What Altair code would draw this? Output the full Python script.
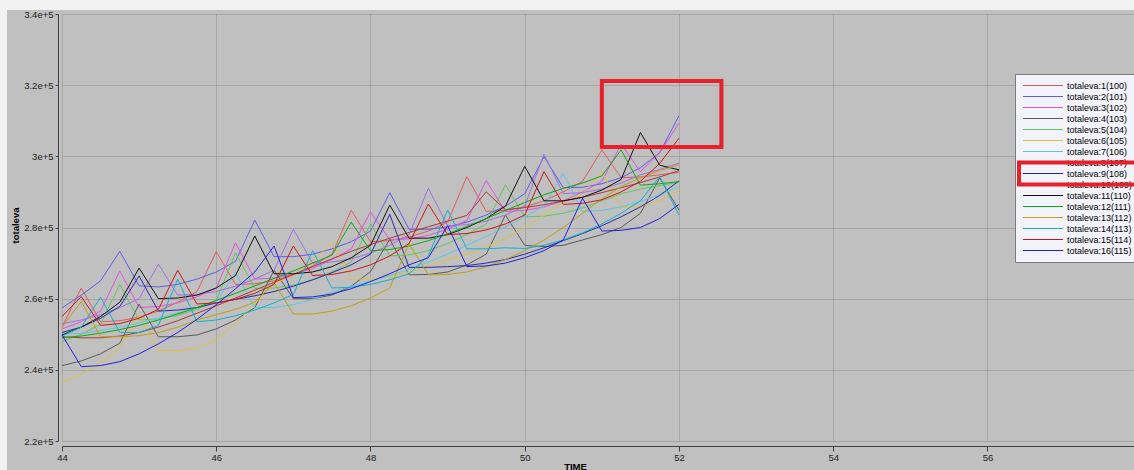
import altair as alt
import pandas as pd

# Simulation time steps (quarter units)
TIME = [44.0, 44.25, 44.5, 44.75, 45.0, 45.25, 45.5, 45.75, 46.0, 46.25, 46.5,
        46.75, 47.0, 47.25, 47.5, 47.75, 48.0, 48.25, 48.5, 48.75, 49.0, 49.25,
        49.5, 49.75, 50.0, 50.25, 50.5, 50.75, 51.0, 51.25, 51.5, 51.75, 52.0]

# totaleva per run, in thousands
run_1 = [252.0, 263.0, 253.5, 253.8, 254.8, 256.5, 259.0, 262.0, 273.2, 264.0, 264.2, 265.0, 266.8, 269.2, 272.5, 284.9, 276.0,
         276.3, 277.3, 279.0, 281.5, 294.3, 284.5, 284.8, 285.8, 287.5, 290.0, 293.0, 301.8, 294.0, 294.2, 294.8, 295.5]
run_2 = [257.4, 261.0, 265.0, 273.3, 263.6, 263.3, 264.0, 265.5, 267.5, 270.5, 282.1, 271.8, 271.8, 272.5, 274.0, 276.0, 279.0,
         289.8, 279.5, 279.5, 280.2, 281.5, 283.5, 286.0, 289.5, 299.9, 291.2, 291.3, 292.3, 294.0, 296.8, 301.0, 311.4]
run_3 = [251.5, 253.5, 256.5, 267.8, 257.5, 257.8, 258.8, 260.5, 263.0, 275.7, 265.5, 265.8, 266.8, 268.5, 271.0, 274.0, 284.4,
         276.5, 276.8, 277.8, 279.5, 282.0, 293.2, 284.5, 284.8, 285.8, 287.5, 290.0, 293.0, 303.4, 295.7, 301.0, 309.3]
run_4 = [241.2, 242.5, 244.5, 247.5, 258.5, 249.3, 249.3, 249.8, 251.5, 254.0, 257.5, 268.0, 260.0, 260.0, 261.0, 263.5, 267.6,
         276.7, 266.7, 266.8, 267.5, 269.5, 272.5, 283.5, 275.0, 274.6, 275.0, 276.5, 278.0, 280.0, 284.0, 293.9, 284.9]
run_5 = [248.0, 250.0, 252.8, 264.0, 254.0, 254.3, 255.3, 257.0, 259.5, 272.9, 262.9, 263.0, 263.8, 265.3, 267.5, 270.3, 281.0,
         272.0, 272.3, 273.5, 275.5, 278.0, 281.0, 292.0, 283.0, 283.2, 284.0, 285.5, 287.5, 289.5, 290.8, 291.8, 292.7]
run_6 = [236.5, 238.8, 241.8, 246.3, 255.4, 245.4, 245.4, 246.0, 248.5, 253.0, 258.5, 264.3, 266.5, 270.5, 275.7, 265.5, 265.5,
         266.2, 267.5, 269.3, 271.0, 272.5, 274.5, 277.0, 280.0, 283.5, 287.0, 289.5, 295.7, 285.6, 286.0, 287.5, 290.5]
run_7 = [250.0, 250.3, 251.0, 252.0, 253.2, 254.5, 256.0, 257.5, 259.2, 267.2, 257.5, 257.5, 258.3, 259.8, 261.8, 263.5, 265.0,
         266.5, 268.3, 270.3, 272.5, 275.0, 277.5, 280.2, 283.0, 286.0, 295.2, 284.5, 284.8, 285.8, 287.3, 289.3, 291.5]
run_8 = [253.0, 254.0, 255.5, 257.5, 260.0, 269.7, 261.0, 261.2, 262.0, 263.5, 265.5, 268.0, 279.5, 270.0, 270.3, 271.2, 272.8,
         275.0, 278.0, 291.0, 280.5, 280.8, 281.8, 283.5, 286.0, 300.6, 289.5, 289.8, 290.8, 292.5, 294.8, 296.3, 298.1]
run_9 = [250.5, 252.0, 254.5, 257.8, 266.4, 256.5, 256.8, 257.5, 258.8, 259.8, 260.8, 262.0, 263.5, 265.3, 267.3, 269.5, 272.5,
         283.7, 268.8, 268.8, 269.0, 269.3, 270.0, 271.0, 272.5, 274.3, 276.3, 278.3, 280.5, 283.0, 285.8, 289.0, 293.1]
run_10 = [249.3, 249.0, 249.0, 249.5, 250.5, 252.0, 253.8, 255.9, 258.0, 260.2, 262.4, 264.6, 266.8, 269.0, 271.2, 273.3, 275.2,
          277.0, 278.6, 280.2, 281.8, 283.4, 290.0, 285.0, 285.6, 286.4, 287.4, 288.5, 289.8, 291.2, 292.6, 294.2, 296.0]
run_11 = [249.8, 252.0, 255.0, 259.0, 268.6, 260.0, 260.2, 261.0, 263.0, 266.5, 277.6, 267.0, 267.0, 267.5, 269.0, 271.5, 275.0,
          286.3, 277.0, 277.0, 278.0, 280.0, 282.5, 286.0, 297.2, 287.5, 287.5, 288.5, 290.5, 293.5, 306.7, 297.5, 296.2]
run_12 = [249.0, 249.5, 250.3, 251.3, 252.5, 254.0, 255.7, 257.5, 259.5, 261.5, 263.6, 265.7, 267.8, 270.0, 272.2, 281.5, 273.5,
          273.8, 274.8, 276.3, 278.2, 280.3, 282.5, 284.8, 287.0, 289.2, 291.0, 292.5, 294.5, 301.8, 291.9, 292.3, 292.9]
run_13 = [252.0, 259.2, 249.3, 249.3, 249.6, 250.5, 252.0, 254.0, 255.5, 257.0, 259.0, 264.5, 255.7, 255.7, 256.5, 258.0, 260.2,
          263.0, 275.4, 266.7, 266.8, 267.5, 269.0, 271.0, 273.5, 276.5, 280.0, 284.0, 288.0, 291.5, 294.0, 296.0, 297.6]
run_14 = [249.5, 252.0, 260.4, 250.5, 250.5, 252.5, 265.5, 253.5, 254.0, 255.2, 256.8, 258.8, 261.2, 273.5, 263.0, 263.2, 264.0,
          265.3, 267.0, 272.0, 284.9, 274.0, 274.0, 274.3, 274.1, 275.0, 276.5, 278.5, 281.0, 284.0, 287.5, 294.3, 283.5]
run_15 = [255.0, 260.6, 252.5, 253.0, 254.5, 257.0, 268.0, 258.5, 258.8, 259.8, 261.5, 264.0, 274.8, 266.5, 266.8, 267.8, 269.5,
          272.0, 275.5, 286.6, 278.0, 278.3, 279.3, 281.0, 283.5, 295.7, 286.5, 286.8, 287.8, 290.0, 293.0, 298.0, 305.1]
run_16 = [249.8, 240.9, 241.2, 242.3, 244.5, 247.3, 250.5, 254.2, 258.3, 262.8, 267.5, 274.8, 260.3, 260.5, 261.3, 262.8, 264.8,
          267.0, 269.5, 271.5, 280.5, 269.0, 269.2, 270.0, 271.5, 273.5, 276.5, 288.2, 279.0, 279.2, 280.0, 282.5, 286.5]

runs = [run_1, run_2, run_3, run_4, run_5, run_6, run_7, run_8,
        run_9, run_10, run_11, run_12, run_13, run_14, run_15, run_16]

labels = ["totaleva:1(100)", "totaleva:2(101)", "totaleva:3(102)", "totaleva:4(103)",
          "totaleva:5(104)", "totaleva:6(105)", "totaleva:7(106)", "totaleva:8(107)",
          "totaleva:9(108)", "totaleva:10(109)", "totaleva:11(110)", "totaleva:12(111)",
          "totaleva:13(112)", "totaleva:14(113)", "totaleva:15(114)", "totaleva:16(115)"]

colors = ["#e05c5c", "#5c5ce6", "#dd55dd", "#5a5a5a", "#5cc85c", "#e0c040", "#5cc8e6", "#a070e0",
          "#2a2aa8", "#b03838", "#101010", "#10a810", "#c0a010", "#10b0d0", "#c81818", "#2020e0"]

x_ticks = [44, 46, 48, 50, 52, 54, 56]
y_ticks = [220000, 240000, 260000, 280000, 300000, 320000, 340000]

# highlighted region in the plot (time span, totaleva span)
highlight_time = [51.0, 52.55]
highlight_totaleva = [302600, 321200]
# highlighted legend rows (0-based, centre of the box edges)
legend_highlight_rows = [7, 9]

FONT = "Liberation Sans"
AXIS_COLOR = "#404040"
GRID_COLOR = "#8e8e8e"

rows = []
for name, col, vals in zip(labels, colors, runs):
    for t, v in zip(TIME, vals):
        rows.append({"TIME": t, "totaleva": v * 1000, "series": name, "color": col})
df = pd.DataFrame(rows)

x_enc = alt.X(
    "TIME:Q",
    scale=alt.Scale(domain=[44, 57.9], nice=False, zero=False),
    axis=alt.Axis(
        values=x_ticks, format="d", offset=5, tickSize=5, labelPadding=1,
        title="TIME", titleFontWeight="bold", titleFontSize=9.5, titleFont=FONT,
        titleX=513, titleY=15, titleBaseline="top", titleAlign="center",
        grid=True, gridDash=[1, 1], gridColor=GRID_COLOR,
        domainColor=AXIS_COLOR, tickColor=AXIS_COLOR, labelColor="#202020",
        labelFont=FONT, labelFontSize=9.5, labelFlush=False,
    ),
)
y_enc = alt.Y(
    "totaleva:Q",
    scale=alt.Scale(domain=[220000, 340000], nice=False, zero=False),
    axis=alt.Axis(
        values=y_ticks, labelExpr="replace(format(datum.value, '.1e'), '.0e', 'e')",
        offset=4, tickSize=3, labelPadding=2,
        title="totaleva", titleFontWeight="bold", titleFontSize=9.5, titleFont=FONT,
        titleAngle=270, titleX=-43, titleY=211, titleBaseline="middle", titleAlign="center",
        grid=True, gridDash=[1, 1], gridColor=GRID_COLOR,
        domainColor=AXIS_COLOR, tickColor=AXIS_COLOR, labelColor="#202020",
        labelFont=FONT, labelFontSize=9.5, labelFlush=False,
    ),
)

lines = alt.Chart(df).mark_line(strokeWidth=1).encode(
    x=x_enc,
    y=y_enc,
    color=alt.Color("color:N", scale=None),
    detail="series:N",
)

box_df = pd.DataFrame({
    "t0": [highlight_time[0]], "t1": [highlight_time[1]],
    "v0": [highlight_totaleva[0]], "v1": [highlight_totaleva[1]],
})
plot_box = alt.Chart(box_df).mark_rect(filled=False, color="#e8202a", strokeWidth=4).encode(
    x="t0:Q", x2="t1:Q", y="v0:Q", y2="v1:Q",
)

main = alt.layer(lines, plot_box)

# hand-drawn legend panel on the right
one = pd.DataFrame({"k": [0]})
row_scale = alt.Scale(domain=[0, 15], range=[71.5, 236.5])
legend_df = pd.DataFrame({"label": labels, "color": colors, "row": list(range(len(labels)))})

legend_bg = alt.Chart(one).mark_rect(fill="#f3f3fb", stroke="#7a7a7a", strokeWidth=1).encode(
    x=alt.value(953.5), x2=alt.value(1090), y=alt.value(60.5), y2=alt.value(248.5),
)
legend_lines = alt.Chart(legend_df).mark_rule(strokeWidth=1).encode(
    x=alt.value(961), x2=alt.value(1001),
    y=alt.Y("row:Q", scale=row_scale, axis=None),
    color=alt.Color("color:N", scale=None),
)
legend_text = alt.Chart(legend_df).mark_text(
    align="left", baseline="middle", font=FONT, fontSize=9, color="#000000",
).encode(
    x=alt.value(1005),
    y=alt.Y("row:Q", scale=row_scale, axis=None),
    text="label:N",
)
lbox_df = pd.DataFrame({"r0": [legend_highlight_rows[0]], "r1": [legend_highlight_rows[1]]})
legend_box = alt.Chart(lbox_df).mark_rect(filled=False, color="#e8202a", strokeWidth=4).encode(
    x=alt.value(957), x2=alt.value(1082),
    y=alt.Y("r0:Q", scale=row_scale, axis=None), y2="r1:Q",
)
legend = alt.layer(legend_bg, legend_lines, legend_text, legend_box)

# light window frame strips along the left and top edges
strip_left = alt.Chart(one).mark_rect(color="#f2f2f2").encode(
    x=alt.value(-62), x2=alt.value(-55), y=alt.value(-14), y2=alt.value(456),
)
strip_top = alt.Chart(one).mark_rect(color="#f2f2f2").encode(
    x=alt.value(-62), x2=alt.value(1072), y=alt.value(-14), y2=alt.value(-4),
)

chart = alt.layer(strip_left, strip_top, main, legend).resolve_scale(
    y="independent", color="independent"
).properties(
    width=1072,
    height=427,
    background="#c0c0c0",
    padding={"left": 62, "top": 14, "right": 0, "bottom": 29},
    autosize=alt.AutoSizeParams(type="none"),
).configure_view(strokeWidth=0)

chart.save("out.html", embed_options={"renderer": "svg", "actions": False})
